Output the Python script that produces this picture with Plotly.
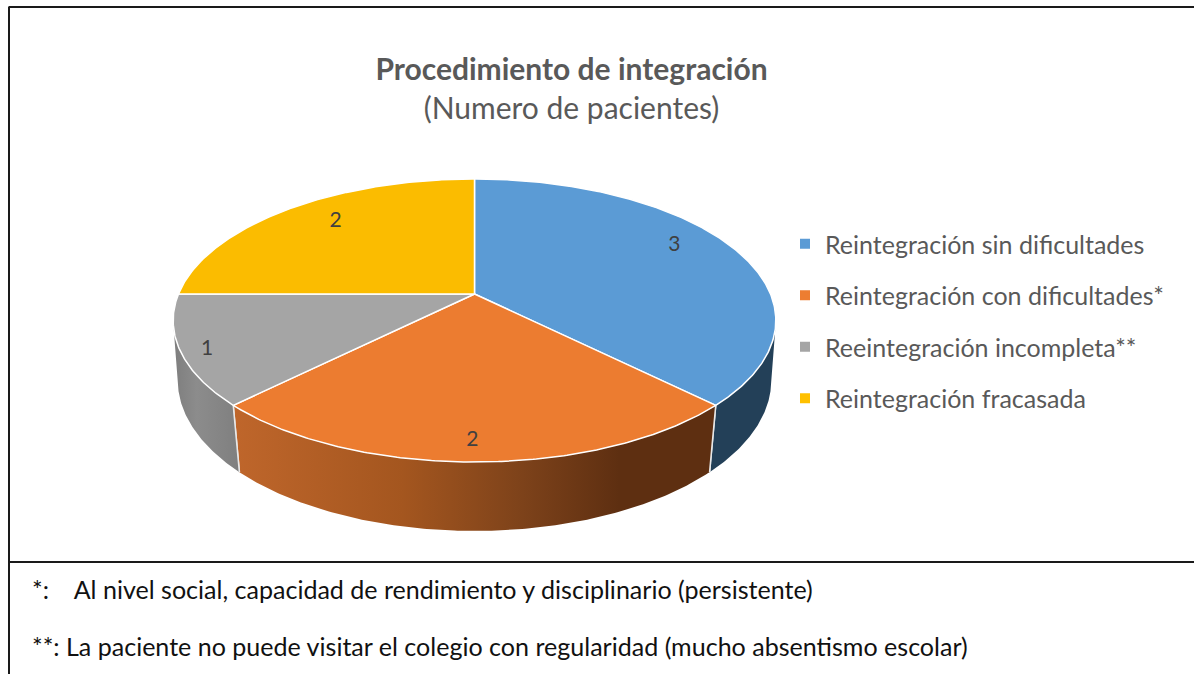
import numpy as np
import plotly.graph_objects as go

# ---- data ----
categories = ["Reintegración sin dificultades", "Reintegración con dificultades*",
              "Reeintegración incompleta**", "Reintegración fracasada"]
patients = [3, 2, 1, 2]
top_colors = ["#5B9BD5", "#EC7C30", "#A5A5A5", "#FBBC00"]
legend_colors = ["#5B9BD5", "#ED7D31", "#A5A5A5", "#FFC000"]
title_main = "Procedimiento de integración"
title_sub = "(Numero de pacientes)"
note_1 = "*:\u00a0\u00a0\u00a0\u00a0Al nivel social, capacidad de rendimiento y disciplinario (persistente)"
note_2 = "**: La paciente no puede visitar el colegio con regularidad (mucho absentismo escolar)"

# ---- perspective of the 3D pie (pixel space) ----
CX = 474.5
TOP = dict(a=81.5, b=294.0, c=-0.1873, d=296.0)     # upper face
BASE = dict(a=86.4, b=354.3, c=-0.17, d=292.5)      # lower rim
LABEL_R = [0.82, 0.89, 0.92, 0.79]
LABEL_SHIFT = [-5.5, 0.4, -1.5, 3.7]
LABEL_DY = 1
WALL_LIMIT = 104.0   # silhouette angle: walls visible only below this


def project(theta_deg, r, p):
    t = np.radians(theta_deg)
    u, v = r * np.sin(t), -r * np.cos(t)
    w = 1 + p["c"] * v
    return CX + p["d"] * u / w, (p["a"] * v + p["b"]) / w


def arc(t0, t1, p):
    th = np.linspace(t0, t1, max(int(abs(t1 - t0) * 2), 2))
    return project(th, 1.0, p)


total = sum(patients)
edges = np.cumsum([0] + patients) / total * 360

fig = go.Figure()

# side walls
wall_fill = [
    dict(color="#234058"),
    dict(gradient=dict(type="horizontal", colorscale=[
        [0, "#BF662B"], [0.35, "#A4561F"], [0.6, "#7D421A"], [0.8, "#5E2F11"], [1, "#5E2F11"]])),
    dict(gradient=dict(type="horizontal", colorscale=[
        [0, "#7E7E7E"], [0.35, "#8C8C8C"], [1, "#7F7F7F"]])),
    None,
]
for i, style in enumerate(wall_fill):
    if style is None:
        continue
    t0 = max(edges[i], WALL_LIMIT)
    t1 = min(edges[i + 1], 360 - WALL_LIMIT)
    rx, ry = arc(t0, t1, TOP)
    bx, by = arc(t1, t0, BASE)
    x = np.concatenate([rx, bx, rx[:1]])
    y = np.concatenate([ry, by, ry[:1]])
    kw = dict(fillcolor=style["color"]) if "color" in style else dict(fillgradient=style["gradient"])
    fig.add_trace(go.Scatter(x=x, y=y, mode="lines", fill="toself", showlegend=False,
                             hoverinfo="skip", line=dict(color="rgba(0,0,0,0)", width=0), **kw))
    # light seam at the wall's front edges
    for t in (edges[i], edges[i + 1]):
        if WALL_LIMIT < t < 360 - WALL_LIMIT:
            sx = [project(t, 1.0, TOP)[0], project(t, 1.0, BASE)[0]]
            sy = [project(t, 1.0, TOP)[1], project(t, 1.0, BASE)[1]]
            fig.add_trace(go.Scatter(x=sx, y=sy, mode="lines", showlegend=False, hoverinfo="skip",
                                     line=dict(color="#E8E8E8", width=1.5)))

# upper face
for i, col in enumerate(top_colors):
    ax, ay = arc(edges[i], edges[i + 1], TOP)
    ox, oy = project(0.0, 0.0, TOP)
    fig.add_trace(go.Scatter(x=np.r_[ox, ax, ox], y=np.r_[oy, ay, oy], mode="lines", fill="toself",
                             fillcolor=col, line=dict(color="white", width=1.5),
                             showlegend=False, name=categories[i],
                             hovertemplate="%{fullData.name}<extra></extra>"))

# value labels
for i, val in enumerate(patients):
    mid = (edges[i] + edges[i + 1]) / 2 + LABEL_SHIFT[i]
    lx, ly = project(mid, LABEL_R[i], TOP)
    fig.add_trace(go.Scatter(x=[lx], y=[ly + LABEL_DY], mode="text", text=[str(val)], showlegend=False,
                             hoverinfo="skip", textposition="middle center",
                             textfont=dict(family="Lato", size=21, color="#404040")))

# legend entries
for name, col in zip(categories, legend_colors):
    fig.add_trace(go.Scatter(x=[None], y=[None], mode="markers", name=name, legendgroup=name,
                             marker=dict(symbol="square", size=10, color=col)))

W, H = 1194, 674
frame = dict(color="#1A1A1A", width=2)
fig.update_layout(
    width=W, height=H, margin=dict(l=0, r=0, t=0, b=0),
    paper_bgcolor="white", plot_bgcolor="white",
    xaxis=dict(range=[0, W], visible=False, fixedrange=True),
    yaxis=dict(range=[H, 0], visible=False, fixedrange=True),
    title=dict(text=f"<b>{title_main}</b><br>{title_sub}", x=571.5 / W, xanchor="center",
               y=1 - 80 / H, yanchor="top", pad=dict(t=0, b=0, l=0, r=0),
               font=dict(family="Lato", size=30, color="#595959")),
    legend=dict(x=785 / W, xanchor="left", y=1 - 221 / H, yanchor="top", bgcolor="rgba(0,0,0,0)",
                tracegroupgap=16, font=dict(family="Lato", size=25, color="#595959"),
                itemwidth=30),
    shapes=[
        dict(type="line", xref="paper", yref="paper", x0=8.5 / W, x1=1, y0=1 - 7 / H, y1=1 - 7 / H, line=frame),
        dict(type="line", xref="paper", yref="paper", x0=9 / W, x1=9 / W, y0=1 - 7 / H, y1=0, line=frame),
        dict(type="line", xref="paper", yref="paper", x0=9 / W, x1=1, y0=1 - 562 / H, y1=1 - 562 / H, line=frame),
    ],
    annotations=[
        dict(text=note_1, xref="paper", yref="paper", x=30 / W, y=1 - 589 / H, xanchor="left", yanchor="middle",
             showarrow=False, font=dict(family="Lato", size=25.05, color="#111111")),
        dict(text=note_2, xref="paper", yref="paper", x=30 / W, y=1 - 646 / H, xanchor="left", yanchor="middle",
             showarrow=False, font=dict(family="Lato", size=25.05, color="#111111")),
    ],
)
fig.write_html("out.html", post_script="document.body.style.margin='0';document.body.style.overflow='hidden';",
               config=dict(displayModeBar=False))
